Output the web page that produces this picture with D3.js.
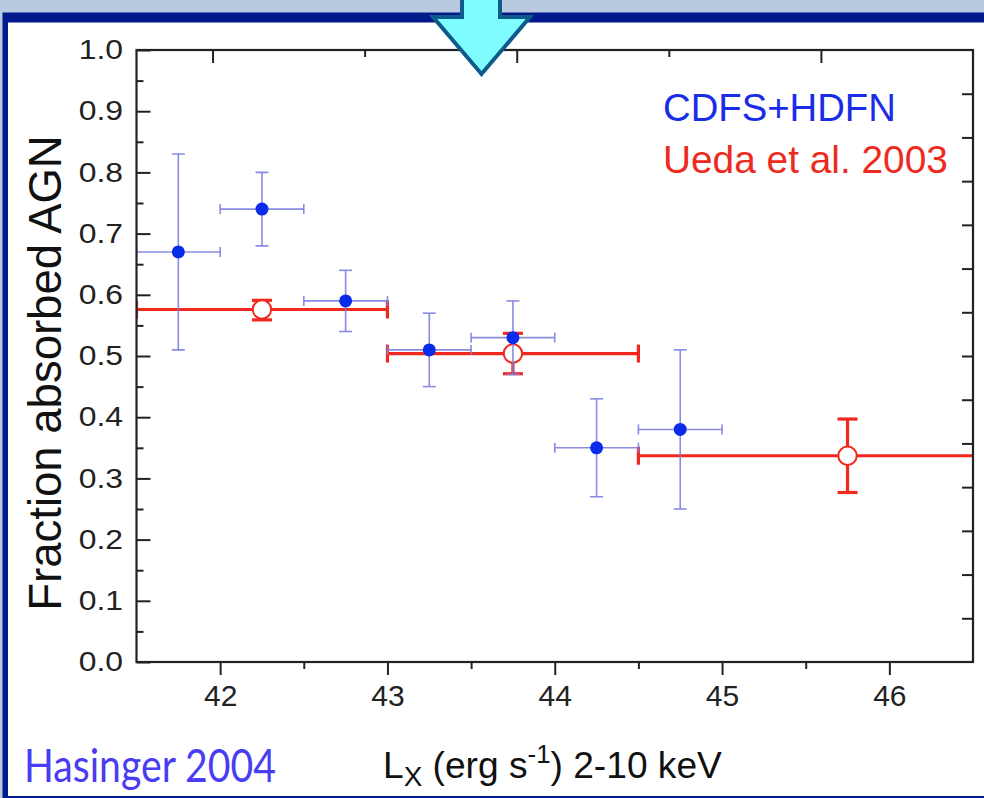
<!DOCTYPE html>
<html>
<head>
<meta charset="utf-8">
<script src="https://cdn.jsdelivr.net/npm/d3@7/dist/d3.min.js"></script>
<style>
  html, body { margin: 0; padding: 0; background: #b7cadf; }
  svg { display: block; }
</style>
</head>
<body>
<svg id="chart" width="984" height="798"></svg>
<script>
// ---------------- data ----------------
const blueX   = [41.75, 42.25, 42.75, 43.25, 43.75, 44.25, 44.75];
const blueY   = [0.67, 0.74, 0.59, 0.51, 0.53, 0.35, 0.38];
const blueYlo = [0.51, 0.68, 0.54, 0.45, 0.47, 0.27, 0.25];
const blueYhi = [0.83, 0.80, 0.64, 0.57, 0.59, 0.43, 0.51];
const blueXlo = [41.5, 42.0, 42.5, 43.0, 43.5, 44.0, 44.5];
const blueXhi = [42.0, 42.5, 43.0, 43.5, 44.0, 44.5, 45.0];

const redX   = [42.25, 43.75, 45.75];
const redY   = [0.576, 0.504, 0.337];
const redYlo = [0.559, 0.471, 0.277];
const redYhi = [0.591, 0.537, 0.397];
const redXlo = [41.5, 43.0, 44.5];
const redXhi = [43.0, 44.5, 47.0];

const xMajorTicks = [42, 43, 44, 45, 46];
const xMinorTicks = [42.5, 43.5, 44.5, 45.5];
const yMajorTicks = [0.0, 0.1, 0.2, 0.3, 0.4, 0.5, 0.6, 0.7, 0.8, 0.9, 1.0];
const yMinorTicks = [0.05, 0.15, 0.25, 0.35, 0.45, 0.55, 0.65, 0.75, 0.85, 0.95];
const topMajorTicks = [42, 43, 44];
const topMinorTicks = [42.5, 43.5];
const rightTicks = d3.range(1, 14);

const legendLabels = ["CDFS+HDFN", "Ueda et al. 2003"];
const yTitle = "Fraction absorbed AGN";
const creditText = "Hasinger 2004";

// ---------------- layout ----------------
const svg = d3.select("#chart");
const L = 136.5, R = 973, T = 50, B = 662;
const blue = "#0b2bea", blueBar = "#7d7fe0", red = "#f0281e";

const x = d3.scaleLinear().domain([41.5, 46.5]).range([L, R]);
const y = d3.scaleLinear().domain([0, 1]).range([B, T]);
const xTop = d3.scaleLinear().domain([41.75, 44.5]).range([L, R]);
const yRight = d3.scaleLinear().domain([0, 14]).range([B, T]);

// background & frame
svg.append("rect").attr("x", 0).attr("y", 0).attr("width", 984).attr("height", 798).attr("fill", "#b7cadf");
svg.append("rect").attr("x", 2.5).attr("y", 12.5).attr("width", 990).attr("height", 790).attr("fill", "#00198c");
svg.append("rect").attr("x", 8).attr("y", 22.5).attr("width", 990).attr("height", 773.5).attr("fill", "#ffffff");

// clip
svg.append("clipPath").attr("id", "plotclip")
  .append("rect").attr("x", L).attr("y", T).attr("width", R - L).attr("height", B - T);

const plot = svg.append("g").attr("clip-path", "url(#plotclip)");

// ---- red series (Ueda) ----
const redG = plot.append("g").attr("stroke", red).attr("fill", "none");
redX.forEach((d, i) => {
  const cy = y(redY[i]), cx = x(d);
  redG.append("line").attr("x1", x(redXlo[i])).attr("x2", x(redXhi[i])).attr("y1", cy).attr("y2", cy).attr("stroke-width", 3.2);
  [redXlo[i], redXhi[i]].forEach(v => {
    redG.append("line").attr("x1", x(v)).attr("x2", x(v)).attr("y1", cy - 9).attr("y2", cy + 9).attr("stroke-width", 3.2);
  });
  redG.append("line").attr("x1", cx).attr("x2", cx).attr("y1", y(redYlo[i])).attr("y2", y(redYhi[i])).attr("stroke-width", 3.2);
  [redYlo[i], redYhi[i]].forEach(v => {
    redG.append("line").attr("x1", cx - 10).attr("x2", cx + 10).attr("y1", y(v)).attr("y2", y(v)).attr("stroke-width", 3.2);
  });
  redG.append("circle").attr("cx", cx).attr("cy", cy).attr("r", 9.2).attr("fill", "#fff").attr("stroke-width", 2);
});

// ---- blue series (CDFS+HDFN) ----
const blueG = plot.append("g").attr("stroke", blueBar).attr("stroke-width", 1.6).attr("fill", "none").attr("stroke-opacity", 0.9);
blueX.forEach((d, i) => {
  const cy = y(blueY[i]), cx = x(d);
  blueG.append("line").attr("x1", x(blueXlo[i])).attr("x2", x(blueXhi[i])).attr("y1", cy).attr("y2", cy);
  [blueXlo[i], blueXhi[i]].forEach(v => {
    blueG.append("line").attr("x1", x(v)).attr("x2", x(v)).attr("y1", cy - 5).attr("y2", cy + 5);
  });
  blueG.append("line").attr("x1", cx).attr("x2", cx).attr("y1", y(blueYlo[i])).attr("y2", y(blueYhi[i]));
  [blueYlo[i], blueYhi[i]].forEach(v => {
    blueG.append("line").attr("x1", cx - 6.5).attr("x2", cx + 6.5).attr("y1", y(v)).attr("y2", y(v));
  });
});
plot.append("g").selectAll("circle").data(blueX).join("circle")
  .attr("cx", d => x(d)).attr("cy", (d, i) => y(blueY[i])).attr("r", 6.5).attr("fill", blue);

// ---------------- axes ----------------
const axisColor = "#222";
function styleAxis(g) {
  g.select(".domain").remove();
  g.selectAll(".tick line").attr("stroke", axisColor).attr("stroke-width", 2);
  g.selectAll("text").attr("fill", "#222").attr("font-family", "'Liberation Sans', Arial, sans-serif");
}

// bottom
svg.append("g").attr("transform", `translate(0,${B})`)
  .call(d3.axisBottom(x).tickValues(xMajorTicks).tickSize(13).tickSizeOuter(0).tickPadding(10).tickFormat(d3.format("d")))
  .call(styleAxis)
  .call(g => g.selectAll("text").attr("font-size", 30));
svg.append("g").attr("transform", `translate(0,${B})`)
  .call(d3.axisBottom(x).tickValues(xMinorTicks).tickSize(7).tickSizeOuter(0).tickFormat(""))
  .call(styleAxis);

// left
const yAxG = svg.append("g").attr("transform", `translate(${L},0)`)
  .call(d3.axisLeft(y).tickValues(yMajorTicks).tickSize(-14).tickSizeOuter(0).tickPadding(0).tickFormat(d3.format(".1f")))
  .call(styleAxis);
yAxG.selectAll("text")
  .attr("font-size", 27)
  .attr("x", 0)
  .attr("transform", "translate(-13.5,0) scale(1.18,1)");
svg.append("g").attr("transform", `translate(${L},0)`)
  .call(d3.axisLeft(y).tickValues(yMinorTicks).tickSize(-7).tickSizeOuter(0).tickFormat(""))
  .call(styleAxis);

// top
svg.append("g").attr("transform", `translate(0,${T})`)
  .call(d3.axisTop(xTop).tickValues(topMajorTicks).tickSize(-13).tickSizeOuter(0).tickFormat(""))
  .call(styleAxis);
svg.append("g").attr("transform", `translate(0,${T})`)
  .call(d3.axisTop(xTop).tickValues(topMinorTicks).tickSize(-7).tickSizeOuter(0).tickFormat(""))
  .call(styleAxis);

// right
svg.append("g").attr("transform", `translate(${R},0)`)
  .call(d3.axisRight(yRight).tickValues(rightTicks).tickSize(-11).tickSizeOuter(0).tickFormat(""))
  .call(styleAxis);

// frame
svg.append("rect").attr("x", L).attr("y", T).attr("width", R - L).attr("height", B - T)
  .attr("fill", "none").attr("stroke", axisColor).attr("stroke-width", 2.2);

// ---------------- text ----------------
function fitWidth(sel, w, ax) {
  const bb = sel.node().getBBox();
  const s = w / bb.width;
  sel.attr("transform", `translate(${ax},0) scale(${s},1) translate(${-ax},0)`);
}

// legend
const lg1 = svg.append("text").attr("x", 663).attr("y", 121).attr("font-size", 38)
  .attr("font-family", "'Liberation Sans', Arial, sans-serif").attr("fill", "#1a2de6").text(legendLabels[0]);
fitWidth(lg1, 233, 663);
const lg2 = svg.append("text").attr("x", 663).attr("y", 173).attr("font-size", 38)
  .attr("font-family", "'Liberation Sans', Arial, sans-serif").attr("fill", "#ee2a1e").text(legendLabels[1]);
fitWidth(lg2, 285, 663);

// y title
svg.append("text")
  .attr("transform", "translate(61,373) rotate(-90)")
  .attr("text-anchor", "middle")
  .attr("font-size", 45.5)
  .attr("font-family", "'Liberation Sans', Arial, sans-serif")
  .attr("fill", "#111")
  .text(yTitle);

// x title
const xt = svg.append("text").attr("x", 383).attr("y", 778).attr("font-size", 36)
  .attr("font-family", "'Liberation Sans', Arial, sans-serif").attr("fill", "#111");
xt.append("tspan").text("L");
xt.append("tspan").attr("font-size", 27).attr("dy", 8).text("X");
xt.append("tspan").attr("dy", -8).text(" (erg s");
xt.append("tspan").attr("font-size", 25).attr("dy", -15).text("-1");
xt.append("tspan").attr("dy", 15).text(") 2-10 keV");
fitWidth(xt, 339, 383);

// credit
const cr = svg.append("text").attr("x", 24).attr("y", 782).attr("font-size", 46)
  .attr("font-family", "Lato, 'Open Sans', sans-serif").attr("fill", "#4a3cf2").text(creditText);
fitWidth(cr, 252, 24);

// arrow
const arrowPts = [[462, -6], [500, -6], [500, 17], [530, 17], [481.5, 74], [433, 17], [462, 17]];
svg.append("path")
  .attr("d", d3.line()(arrowPts) + "Z")
  .attr("fill", "#7ffcff").attr("stroke", "#0d5a8c").attr("stroke-width", 4).attr("stroke-linejoin", "miter");
</script>
</body>
</html>
